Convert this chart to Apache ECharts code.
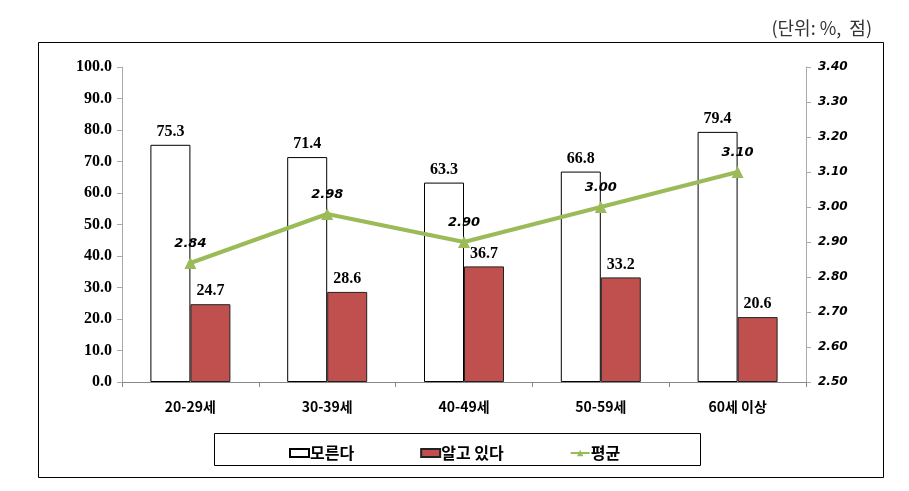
<!DOCTYPE html>
<html><head><meta charset="utf-8">
<script src="https://cdn.jsdelivr.net/npm/echarts@6/dist/echarts.min.js"></script>
<style>html,body{margin:0;padding:0;background:#fff}#c{width:909px;height:491px}</style>
</head><body><div id="c"></div>
<script>
const categories = ['20-29세', '30-39세', '40-49세', '50-59세', '60세 이상'];
const unknownVals = [75.3, 71.4, 63.3, 66.8, 79.4];
const knownVals = [24.7, 28.6, 36.7, 33.2, 20.6];
const avgVals = [2.84, 2.98, 2.90, 3.00, 3.10];
const seriesNames = ['모른다', '알고 있다', '평균'];
const unitText = '(단위: %,  점)';

const chart = echarts.init(document.getElementById('c'));
const serif = '"Liberation Serif", "Times New Roman", serif';
const sans = '"DejaVu Sans", Verdana, sans-serif';
const kr = '"Noto Sans CJK KR", sans-serif';
chart.setOption({
  animation: false,
  backgroundColor: '#fff',
  title: {text: unitText, right: 32, top: 14, textStyle: {fontFamily: kr, fontSize: 18, fontWeight: 'normal', color: '#333'}},
  graphic: [
    {type: 'rect', shape: {x: 38.5, y: 42.5, width: 845, height: 435}, style: {fill: 'none', stroke: '#000', lineWidth: 1}, silent: true},
    {type: 'rect', shape: {x: 214.5, y: 433.5, width: 486, height: 32}, style: {fill: 'none', stroke: '#000', lineWidth: 1}, silent: true}
  ],
  legend: {
    left: 284, top: 440, itemGap: 66, itemWidth: 19, itemHeight: 8,
    textStyle: {fontFamily: kr, fontSize: 16, fontWeight: 'bold', color: '#000', padding: [0,0,0,-4]},
    data: [
      {name: seriesNames[0], icon: 'rect'},
      {name: seriesNames[1], icon: 'rect'},
      {name: seriesNames[2]}
    ]
  },
  grid: {left: 122, right: 103, top: 67, bottom: 109},
  xAxis: {
    type: 'category', data: categories,
    axisLine: {lineStyle: {color: '#888'}},
    axisTick: {show: true, length: 5, lineStyle: {color: '#888'}},
    axisLabel: {fontFamily: kr, fontSize: 14, fontWeight: 'bold', color: '#000', margin: 18}
  },
  yAxis: [
    {type: 'value', min: 0, max: 100, interval: 10,
     axisLine: {show: true, lineStyle: {color: '#aaa'}},
     axisTick: {show: true, length: 5, lineStyle: {color: '#aaa'}},
     splitLine: {show: false},
     axisLabel: {formatter: v => v.toFixed(1), fontFamily: serif, fontSize: 16, fontWeight: 'bold', color: '#000', margin: 10}},
    {type: 'value', min: 2.5, max: 3.4, interval: 0.1,
     axisLine: {show: true, lineStyle: {color: '#aaa'}},
     axisTick: {show: true, length: 5, lineStyle: {color: '#aaa'}},
     splitLine: {show: false},
     axisLabel: {formatter: v => v.toFixed(2), fontFamily: sans, fontSize: 12, fontWeight: 'bold', fontStyle: 'italic', color: '#000', margin: 12}}
  ],
  series: [
    {name: seriesNames[0], type: 'bar', data: unknownVals, barWidth: 40, barGap: '0%',
     itemStyle: {color: '#fff', borderColor: '#000', borderWidth: 1},
     label: {show: true, position: 'top', formatter: p => p.value.toFixed(1), fontFamily: serif, fontSize: 16, fontWeight: 'bold', color: '#000', distance: 5}},
    {name: seriesNames[1], type: 'bar', data: knownVals, barWidth: 40,
     itemStyle: {color: '#C0504D', borderColor: '#222', borderWidth: 1},
     label: {show: true, position: 'top', formatter: p => p.value.toFixed(1), fontFamily: serif, fontSize: 16, fontWeight: 'bold', color: '#000', distance: 5}},
    {name: seriesNames[2], type: 'line', yAxisIndex: 1, data: avgVals,
     symbol: 'triangle', symbolSize: 12,
     lineStyle: {color: '#9BBB59', width: 4}, itemStyle: {color: '#9BBB59'},
     label: {show: true, position: 'top', distance: 7, formatter: p => p.value.toFixed(2), fontFamily: sans, fontSize: 13, fontWeight: 'bold', fontStyle: 'italic', color: '#000'}}
  ]
});
</script></body></html>
